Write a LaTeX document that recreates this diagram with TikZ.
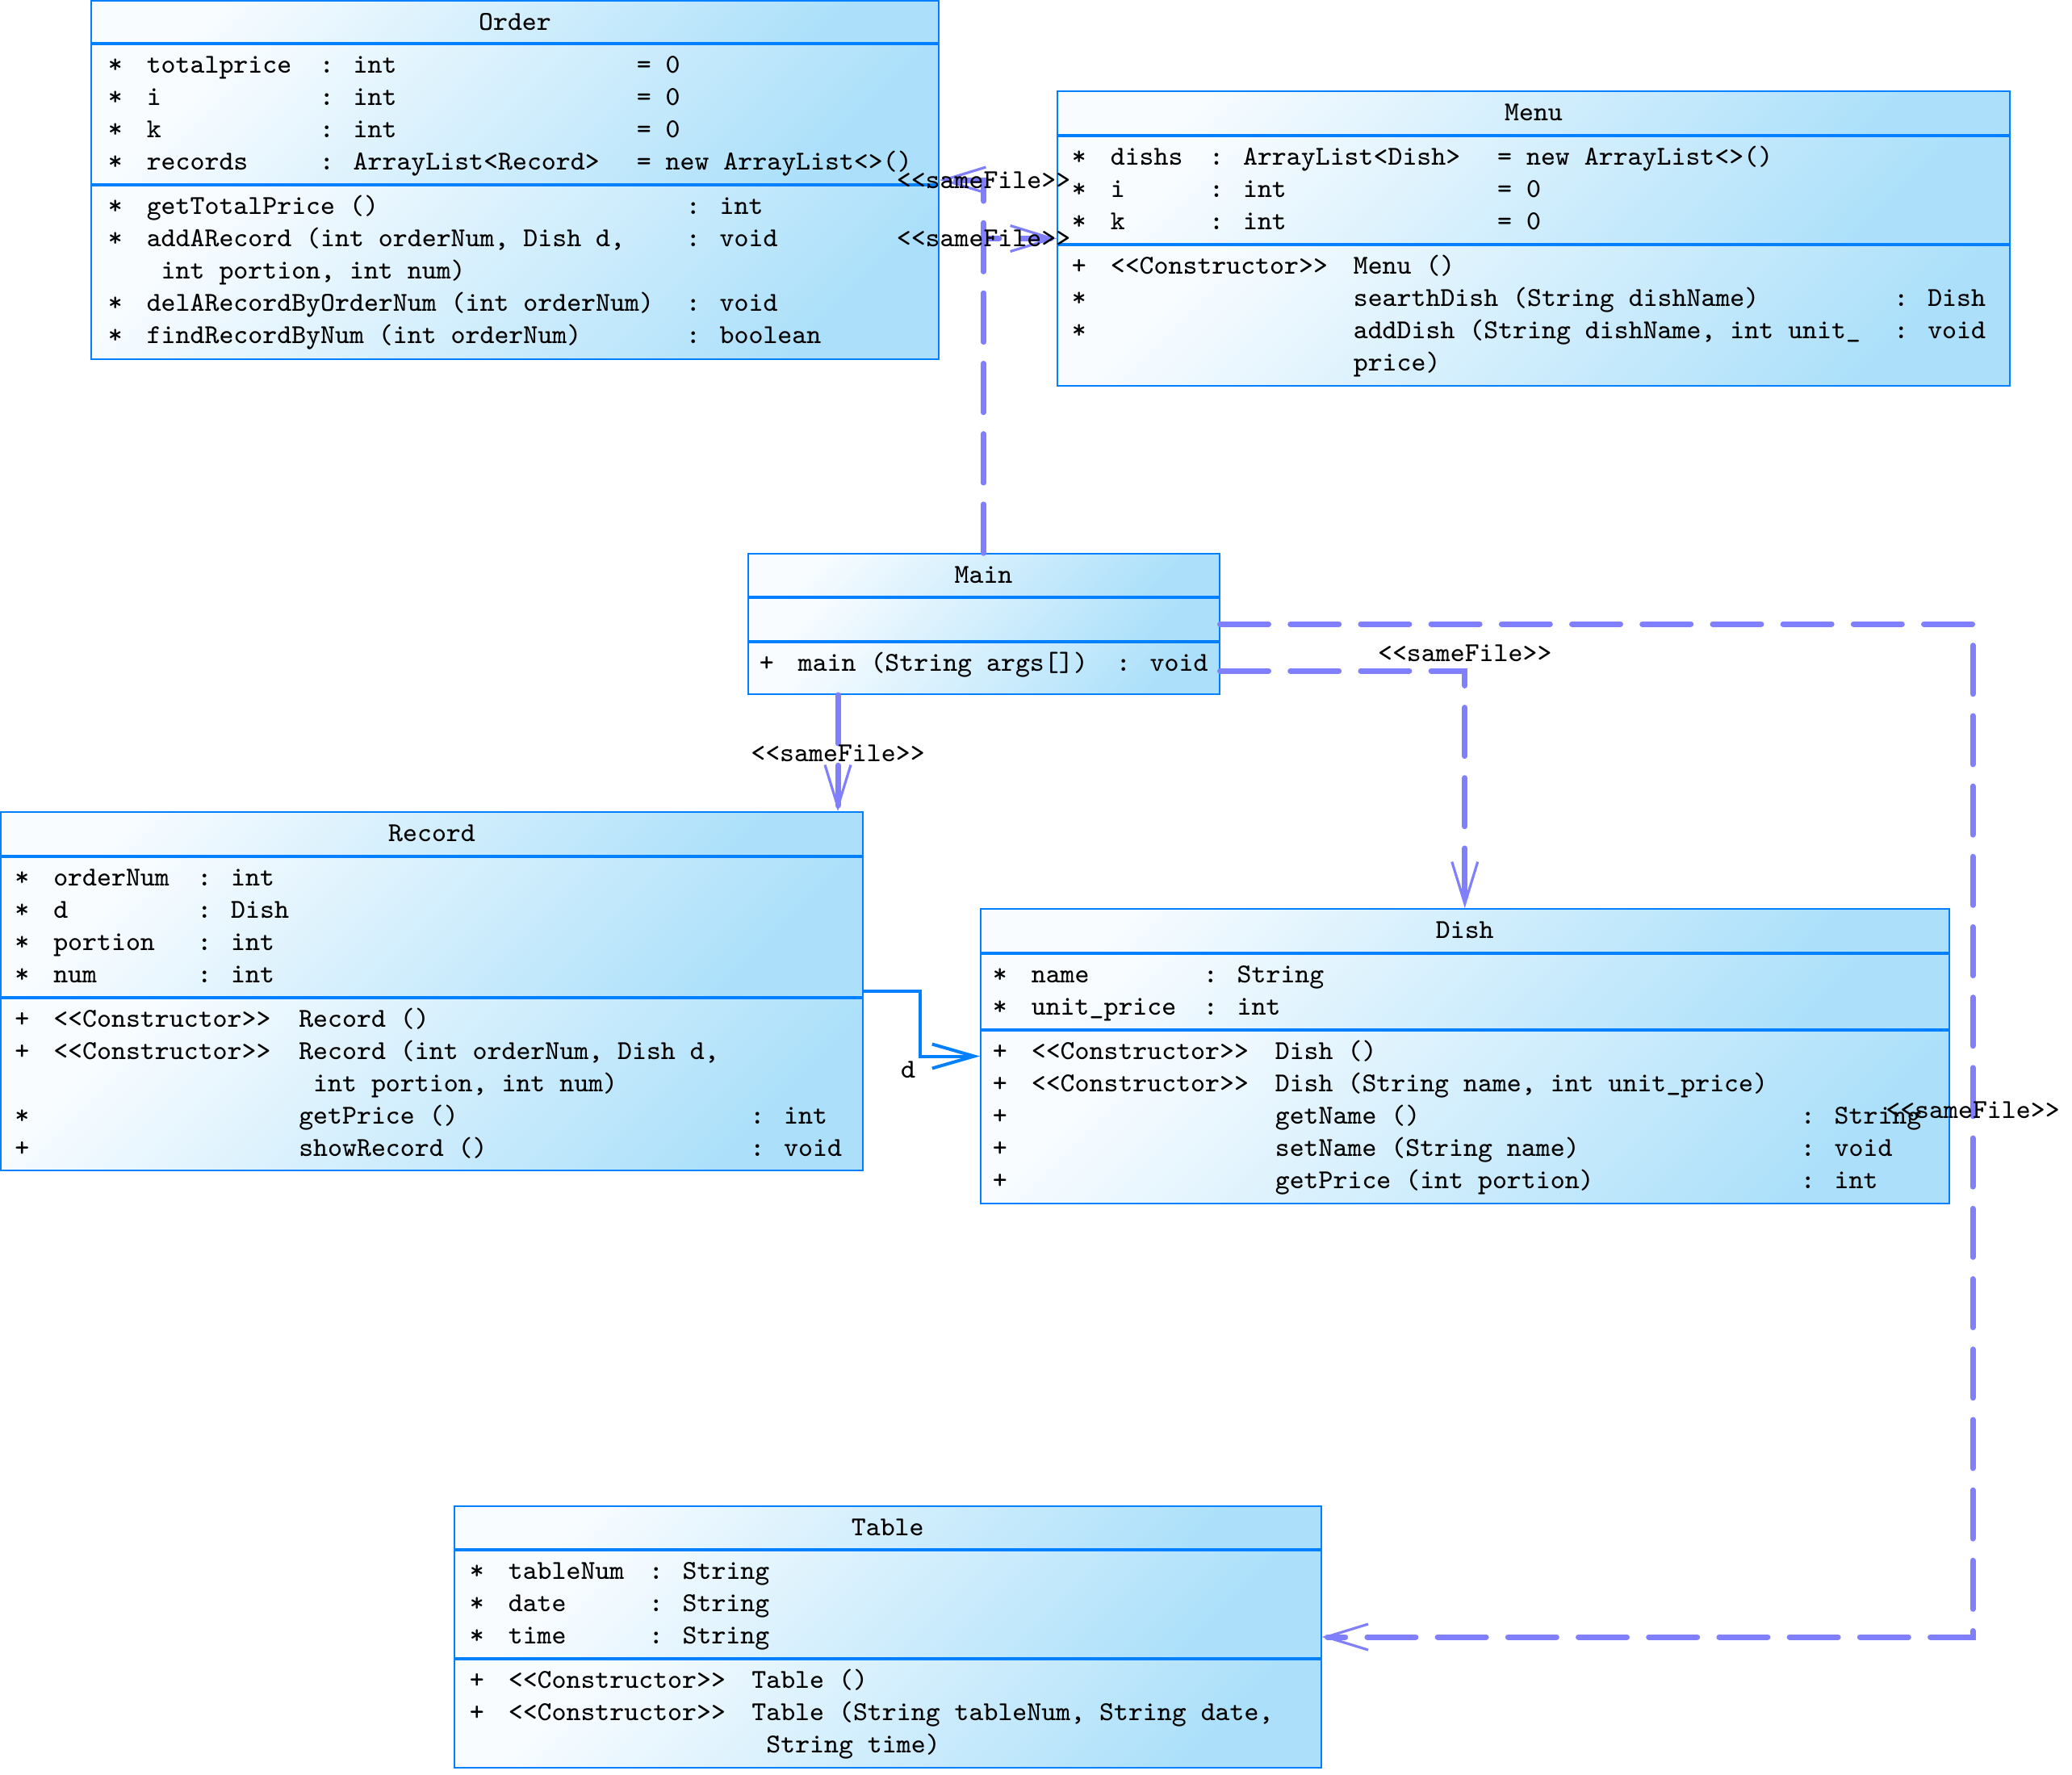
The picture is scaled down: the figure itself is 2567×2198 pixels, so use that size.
\documentclass[tikz,border=0pt]{standalone}
\usepackage{tikz}
\usetikzlibrary{arrows.meta,positioning,calc,fit}

\definecolor{umlblue}{RGB}{0,128,255}
\definecolor{deplav}{RGB}{128,128,255}
\definecolor{clslight}{RGB}{248,252,255}
\definecolor{clsdark}{RGB}{172,224,250}

\newcommand{\umlfont}{\fontsize{8.45pt}{10pt}\selectfont\ttfamily}

% box with three compartments: name, left, top, right, sep1, sep2, bottom, title
\newcommand{\umlbox}[8]{%
  \shade[clspart] (#2,#3) rectangle (#4,#5);
  \shade[clspart] (#2,#5) rectangle (#4,#6);
  \shade[clspart] (#2,#6) rectangle (#4,#7);
  \node[clsframe, fit={(#2,#3) (#4,#7)}] (#1) {};
  \draw[clssep] (#2,#5) -- (#4,#5);
  \draw[clssep] (#2,#6) -- (#4,#6);
  \node[clstitle] (#1-title) at ({(#2+#4)/2},{#3+36}) {#8};
}

\tikzset{
  clspart/.style={top color=clslight, bottom color=clsdark, shading angle=45},
  clsframe/.style={draw=umlblue, line width=0.5pt, inner sep=0pt},
  clssep/.style={draw=umlblue, line width=0.9pt},
  clstitle/.style={anchor=base, inner sep=0pt, font=\umlfont},
  cellrows/.style={anchor=base west, inner sep=0pt, font=\umlfont},
  lbl/.style={font=\umlfont, text=black, inner sep=1pt},
  dep/.style={draw=deplav, line width=1.75pt, line cap=round,
    dash pattern=on 15pt off 6.8pt,
    -{Straight Barb[length=13pt, width=8pt, line width=0.8pt]}},
  assoc/.style={draw=umlblue, line width=1pt,
    -{Straight Barb[length=13pt, width=7.5pt, line width=1pt]}},
}

\begin{document}
\begin{tikzpicture}[x=0.25pt, y=-0.25pt]
    \useasboundingbox (0,0) rectangle (2567,2198);

    % Order
    \umlbox{Order}{113}{1}{1163}{54}{229}{445}{Order}
    \node[cellrows] (ordA) at (133,90) {\begin{tabular}[t]{@{}p{12pt}@{}p{53.5pt}@{}p{98.25pt}@{}l@{}}
      {*} & totalprice & : int & = 0\\
      {*} & i & : int & = 0\\
      {*} & k & : int & = 0\\
      {*} & records & : ArrayList<Record> & = new ArrayList<>()
    \end{tabular}};
    \node[cellrows] (ordM) at (133,265) {\begin{tabular}[t]{@{}p{12pt}@{}p{167pt}@{}l@{}}
      {*} & getTotalPrice () & : int\\
      {*} & addARecord (int orderNum, Dish d, & : void\\
          & ~int portion, int num) & \\
      {*} & delARecordByOrderNum (int orderNum) & : void\\
      {*} & findRecordByNum (int orderNum) & : boolean
    \end{tabular}};

    % Menu
    \umlbox{Menu}{1310}{113}{2490}{168}{303}{478}{Menu}
    \node[cellrows] (menA) at (1327,204) {\begin{tabular}[t]{@{}p{12pt}@{}p{30.6pt}@{}p{89.25pt}@{}l@{}}
      {*} & dishs & : ArrayList<Dish> & = new ArrayList<>()\\
      {*} & i & : int & = 0\\
      {*} & k & : int & = 0
    \end{tabular}};
    \node[cellrows] (menM) at (1327,339) {\begin{tabular}[t]{@{}p{12pt}@{}p{75.25pt}@{}p{167.4pt}@{}l@{}}
      {+} & <<Constructor>> & Menu () & \\
      {*} & & searthDish (String dishName) & : Dish\\
      {*} & & addDish (String dishName, int unit\_ & : void\\
          & & price) &
    \end{tabular}};

    % Main
    \umlbox{Main}{926.5}{686}{1510.5}{740}{795}{860}{Main}
    \node[cellrows] (maiM) at (940,831) {\begin{tabular}[t]{@{}p{12pt}@{}p{98.5pt}@{}l@{}}
      {+} & main (String args[]) & : void
    \end{tabular}};

    % Record
    \umlbox{Record}{1}{1006}{1069}{1061}{1236}{1450}{Record}
    \node[cellrows] (recA) at (17.5,1097) {\begin{tabular}[t]{@{}p{12pt}@{}p{44.5pt}@{}l@{}}
      {*} & orderNum & : int\\
      {*} & d & : Dish\\
      {*} & portion & : int\\
      {*} & num & : int
    \end{tabular}};
    \node[cellrows] (recM) at (17.5,1272) {\begin{tabular}[t]{@{}p{12pt}@{}p{76pt}@{}p{139.75pt}@{}l@{}}
      {+} & <<Constructor>> & Record () & \\
      {+} & <<Constructor>> & Record (int orderNum, Dish d, & \\
          & & ~int portion, int num) & \\
      {*} & & getPrice () & : int\\
      {+} & & showRecord () & : void
    \end{tabular}};

    % Dish
    \umlbox{Dish}{1215}{1126}{2414.5}{1181}{1276}{1491}{Dish}
    \node[cellrows] (disA) at (1229,1217) {\begin{tabular}[t]{@{}p{12pt}@{}p{53.25pt}@{}l@{}}
      {*} & name & : String\\
      {*} & unit\_price & : int
    \end{tabular}};
    \node[cellrows] (disM) at (1229,1312) {\begin{tabular}[t]{@{}p{12pt}@{}p{75.5pt}@{}p{162.75pt}@{}l@{}}
      {+} & <<Constructor>> & Dish () & \\
      {+} & <<Constructor>> & Dish (String name, int unit\_price) & \\
      {+} & & getName () & : String\\
      {+} & & setName (String name) & : void\\
      {+} & & getPrice (int portion) & : int
    \end{tabular}};

    % Table
    \umlbox{Table}{563}{1866}{1636.5}{1920}{2055}{2190}{Table}
    \node[cellrows] (tabA) at (581,1956) {\begin{tabular}[t]{@{}p{12pt}@{}p{43.5pt}@{}l@{}}
      {*} & tableNum & : String\\
      {*} & date & : String\\
      {*} & time & : String
    \end{tabular}};
    \node[cellrows] (tabM) at (581,2091) {\begin{tabular}[t]{@{}p{12pt}@{}p{75.4pt}@{}l@{}}
      {+} & <<Constructor>> & Table ()\\
      {+} & <<Constructor>> & Table (String tableNum, String date,\\
          & & ~String time)
    \end{tabular}};

    % Bends
    \coordinate (tabbend) at (2444,773);
    \coordinate (dbend) at (1140,1268);

    % Arrows
    \draw[dep] (Main.north) |- node[lbl] {<<sameFile>>} (Order.east);
    \draw[dep] (Main.north) |- node[lbl] {<<sameFile>>} (Menu.west);
    \draw[dep] ($(Main.south west)+(112.5,0)$) coordinate (mrec)
        -- node[lbl] {<<sameFile>>} (Record.north -| mrec);
    \draw[dep] (Main.east |- 0,831) -| node[lbl, pos=0.5, above=1pt] {<<sameFile>>} (Dish.north);
    \draw[dep] (Main.east |- tabbend) -- (tabbend)
        |- node[lbl, pos=0.24] {<<sameFile>>} (Table.east);
    \draw[assoc] (Record.east) -| (dbend)
        |- node[lbl, pos=0.5, anchor=north east] {d} (Dish.west);
\end{tikzpicture}
\end{document}
